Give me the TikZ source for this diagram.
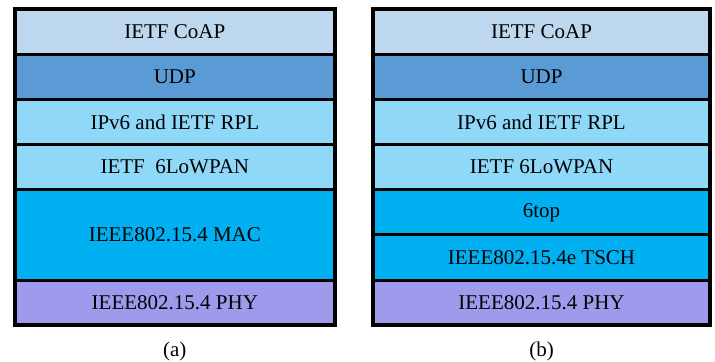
\documentclass[tikz,border=0pt]{standalone}
\usepackage{fontspec}
\setmainfont{Liberation Serif}
\usepackage{tikz}
\usetikzlibrary{positioning}
\usepackage{xcolor}

\definecolor{coapblue}{HTML}{BDD7EE}
\definecolor{udpblue}{HTML}{5B9BD5}
\definecolor{ipblue}{HTML}{8FD8F8}
\definecolor{macblue}{HTML}{00B0F0}
\definecolor{phyviolet}{HTML}{9F9BEC}

\begin{document}
\begin{tikzpicture}[
  layer/.style={draw, line width=1.5pt, minimum height=22.6pt, inner sep=0pt, outer sep=0pt,
                align=center, font=\fontsize{10.5}{12.6}\selectfont},
  lstack/.style={layer, minimum width=159.75pt},
  rstack/.style={layer, minimum width=168.5pt},
  frame/.style={draw, line width=2pt},
  caption/.style={font=\fontsize{10.5}{12.6}\selectfont},
  node distance=0pt
]
\useasboundingbox (0,0) rectangle (357.5pt,181pt);

% (a) classic stack
\node[lstack, fill=coapblue, anchor=north] (coapa) at (87.4pt,176.5pt) {IETF CoAP};
\node[lstack, fill=udpblue, below=of coapa] (udpa) {UDP};
\node[lstack, fill=ipblue, below=of udpa] (rpla) {IPv6 and IETF RPL};
\node[lstack, fill=ipblue, below=of rpla] (lowpana) {IETF\ \ 6LoWPAN};
\node[lstack, fill=macblue, below=of lowpana, minimum height=45.2pt] (maca) {IEEE802.15.4 MAC};
\node[lstack, fill=phyviolet, below=of maca] (phya) {IEEE802.15.4 PHY};
\draw[frame] (coapa.north west) rectangle (phya.south east);

% (b) 6TiSCH stack
\node[rstack, fill=coapblue, anchor=north] (coapb) at (270.75pt,176.5pt) {IETF CoAP};
\node[rstack, fill=udpblue, below=of coapb] (udpb) {UDP};
\node[rstack, fill=ipblue, below=of udpb] (rplb) {IPv6 and IETF RPL};
\node[rstack, fill=ipblue, below=of rplb] (lowpanb) {IETF 6LoWPAN};
\node[rstack, fill=macblue, below=of lowpanb] (sixtop) {6top};
\node[rstack, fill=macblue, below=of sixtop] (tsch) {IEEE802.15.4e TSCH};
\node[rstack, fill=phyviolet, below=of tsch] (phyb) {IEEE802.15.4 PHY};
\draw[frame] (coapb.north west) rectangle (phyb.south east);

\node[caption, below=4.5pt of phya] (capa) {(a)};
\node[caption, below=4.5pt of phyb] (capb) {(b)};
\end{tikzpicture}
\end{document}
